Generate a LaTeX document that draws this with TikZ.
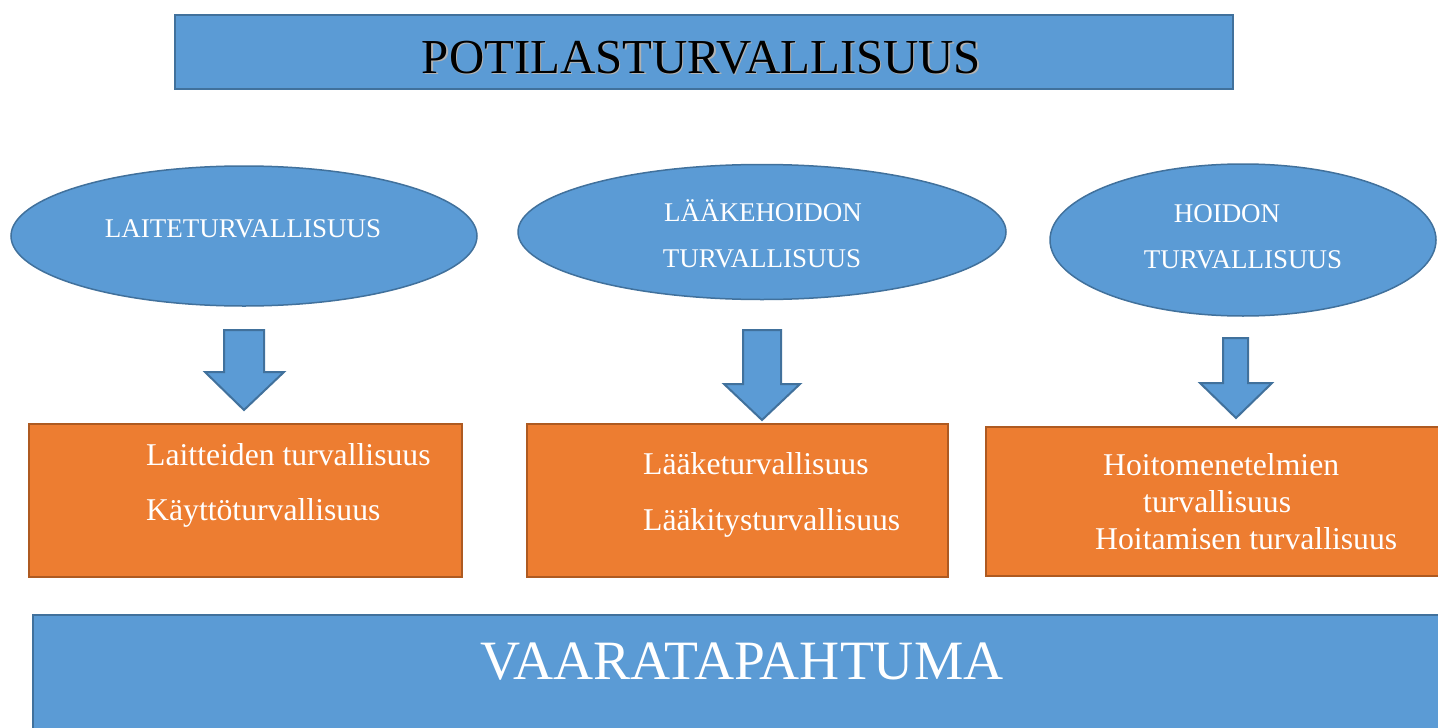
\documentclass[tikz,border=0pt]{standalone}
\usepackage{fontspec}
\setmainfont{Liberation Serif}
\usetikzlibrary{shapes.geometric}
\definecolor{bluefill}{HTML}{5B9BD5}
\definecolor{blueline}{HTML}{41719C}
\definecolor{orfill}{HTML}{ED7D31}
\definecolor{orline}{HTML}{AE5A21}
\begin{document}
\begin{tikzpicture}[x=1pt,y=-1pt,
 bluebox/.style={rectangle,fill=bluefill,draw=blueline,line width=2pt,inner sep=0pt,anchor=north west},
 orbox/.style={rectangle,fill=orfill,draw=orline,line width=2pt,inner sep=0pt,anchor=north west},
 ell/.style={ellipse,fill=bluefill,draw=blueline,line width=1.5pt,inner sep=0pt},
 eltext/.style={text=white,font=\fontsize{27}{31}\selectfont,anchor=base,inner sep=0pt},
 ortext/.style={text=white,font=\fontsize{31.7}{35}\selectfont,anchor=base west,inner sep=0pt},
 barrow/.style={fill=bluefill,draw=blueline,line width=2pt,line join=miter}]
\useasboundingbox (0,0) rectangle (1438,728);
\clip (0,0) rectangle (1438,728);
\fill[white] (0,0) rectangle (1438,728);
% title
\node[bluebox,minimum width=1058pt,minimum height=74pt] (title) at (174,14) {};
\node[anchor=base,inner sep=0pt,text=black!30,font=\fontsize{48.8}{53}\selectfont] (titleshadow) at (703,74.5) {POTILASTURVALLISUUS};
\node[anchor=base,inner sep=0pt,text=black,font=\fontsize{48.8}{53}\selectfont] (titletext) at (701.5,73) {POTILASTURVALLISUUS};
% ellipses
\node[ell,minimum width=466pt,minimum height=140pt] (e1) at (244,236) {};
\node[ell,minimum width=488pt,minimum height=135pt] (e2) at (762,232) {};
\node[ell,minimum width=386pt,minimum height=152pt] (e3) at (1243,240) {};
\node[eltext] (e1t) at (243,237) {LAITETURVALLISUUS};
\node[eltext] (e2t1) at (763,221) {LÄÄKEHOIDON};
\node[eltext] (e2t2) at (762,267) {TURVALLISUUS};
\node[eltext] (e3t1) at (1227,222) {HOIDON};
\node[eltext] (e3t2) at (1243,268) {TURVALLISUUS};
% block arrows
\draw[barrow] (224,330) -- (264,330) -- (264,372) -- (284,372) -- (244,410) -- (205,372) -- (224,372) -- cycle;
\draw[barrow] (743,330) -- (781,330) -- (781,384) -- (800,384) -- (762,420) -- (724,384) -- (743,384) -- cycle;
\draw[barrow] (1223,338) -- (1248,338) -- (1248,383) -- (1272,383) -- (1236,418) -- (1200,383) -- (1223,383) -- cycle;
% orange boxes
\node[orbox,minimum width=433pt,minimum height=153pt] (b1) at (28,423) {};
\node[orbox,minimum width=421pt,minimum height=153pt] (b2) at (526,423) {};
\node[orbox,minimum width=470pt,minimum height=149pt] (b3) at (985,426) {};
\node[ortext] (b1t1) at (146,465) {Laitteiden turvallisuus};
\node[ortext] (b1t2) at (146,520) {Käyttöturvallisuus};
\node[ortext] (b2t1) at (643,474) {Lääketurvallisuus};
\node[ortext] (b2t2) at (643,530) {Lääkitysturvallisuus};
\node[ortext] (b3t1) at (1103,475) {Hoitomenetelmien};
\node[ortext] (b3t2) at (1143,512) {turvallisuus};
\node[ortext] (b3t3) at (1095,549) {Hoitamisen turvallisuus};
% bottom
\node[bluebox,minimum width=1420pt,minimum height=130pt] (bottom) at (32,614) {};
\node[anchor=base,inner sep=0pt,text=white,font=\fontsize{55.5}{60}\selectfont] (bottomt) at (742,679) {VAARATAPAHTUMA};
\end{tikzpicture}
\end{document}
